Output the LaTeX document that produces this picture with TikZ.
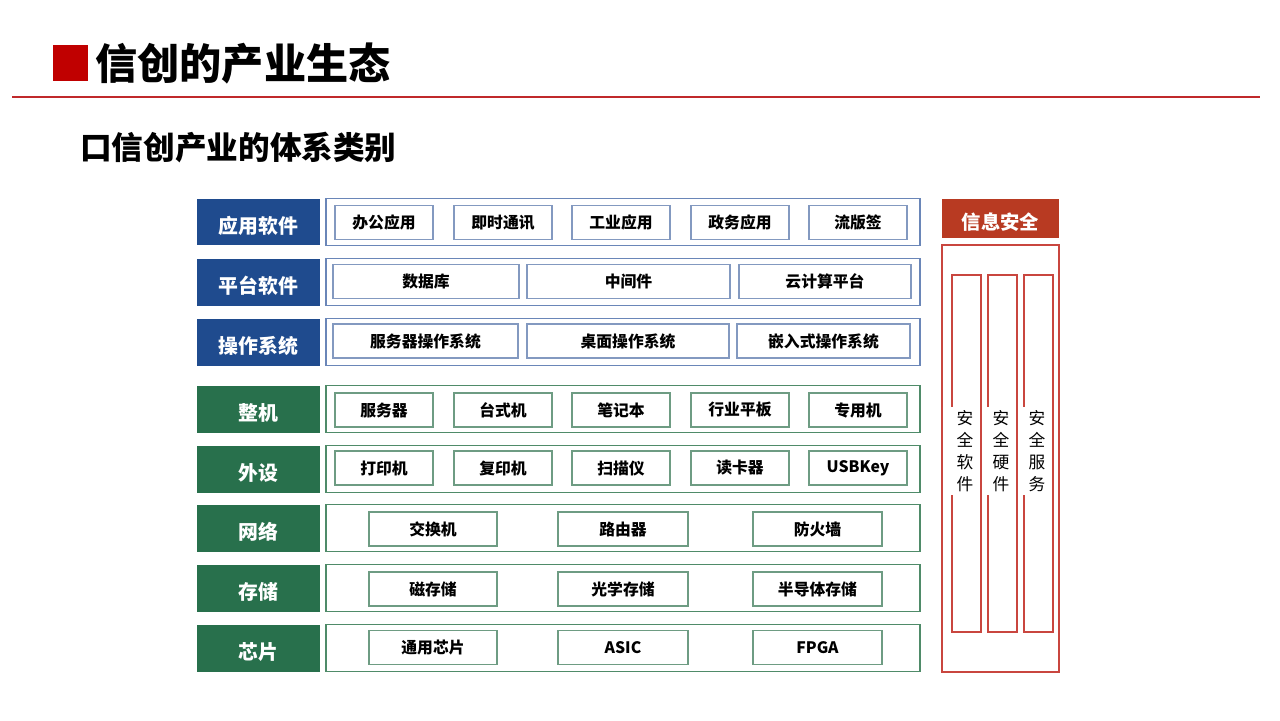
\documentclass[tikz,border=0pt]{standalone}
\usepackage{fontspec}
\setmainfont{Noto Sans CJK SC}
\usetikzlibrary{positioning}
\definecolor{titlered}{HTML}{C00000}
\definecolor{rulered}{HTML}{C0292B}
\definecolor{bluefill}{HTML}{1F4B8E}
\definecolor{blueline}{HTML}{6A86B8}
\definecolor{blueitem}{HTML}{8399C0}
\definecolor{greenfill}{HTML}{28704C}
\definecolor{greenline}{HTML}{4F8B69}
\definecolor{greenitem}{HTML}{6E9C83}
\definecolor{secfill}{HTML}{B83A22}
\definecolor{secline}{HTML}{C9463F}

\begin{document}
\begin{tikzpicture}[
    x=0.02cm, y=-0.02cm,
    layer/.style={draw=#1, line width=1.1pt, fill=white, minimum width=11.88cm,
                  minimum height=0.94cm, inner sep=0pt},
    tag/.style={fill=#1, text=white, minimum width=2.46cm, minimum height=0.94cm,
                inner sep=0pt, font=\fontsize{11.3}{13}\selectfont\bfseries,
                text height=1.38em, text depth=0.12em},
    item/.style={draw=#1, line width=0.8pt, fill=white, minimum height=0.68cm,
                 inner sep=0pt, font=\fontsize{9}{11}\selectfont\bfseries},
    pillar/.style={draw=secline, line width=0.9pt, minimum width=0.58cm,
                   minimum height=7.14cm, inner sep=0pt},
    vtext/.style={fill=white, align=center, font=\fontsize{9.5}{12.5}\selectfont,
                  inner xsep=0pt, inner ysep=2pt, minimum width=0.6cm}
]
\useasboundingbox (0,0) rectangle (1280,720);
\fill[white] (0,0) rectangle (1280,720);

% heading
\node[fill=titlered, minimum size=0.71cm, inner sep=0pt] (mark) at (70.5,63) {};
\node[anchor=west, inner sep=0pt, font=\fontsize{24}{28}\selectfont\bfseries] (title) at (95,63) {信创的产业生态};
\draw[rulered, line width=1.3pt] (12,97) -- (1260,97);
\node[anchor=west, inner sep=0pt, font=\fontsize{18}{22}\selectfont\bfseries] (subtitle) at (80,148) {口信创产业的体系类别};

% software layers
\foreach \row/\y/\txt in {app/222/应用软件, plat/282/平台软件, os/342/操作系统}{
  \node[tag=bluefill] (\row-tag) at (258.5,\y) {\txt};
  \node[layer=blueline] (\row) at (623,\y) {};
}
\foreach \x/\txt [count=\i] in {384/办公应用, 503/即时通讯, 621/工业应用, 740/政务应用, 858/流版签}
  \node[item=blueitem, minimum width=1.96cm] (app-\i) at (\x,222.5) {\txt};
\foreach \x/\w/\txt [count=\i] in {426/3.72/数据库, 628.5/4.06/中间件, 825/3.44/云计算平台}
  \node[item=blueitem, minimum width=\w cm] (plat-\i) at (\x,281.5) {\txt};
\foreach \x/\w/\txt [count=\i] in {425.5/3.70/服务器操作系统, 628/4.04/桌面操作系统, 823.5/3.46/嵌入式操作系统}
  \node[item=blueitem, minimum width=\w cm] (os-\i) at (\x,341) {\txt};

% hardware layers
\foreach \row/\y/\txt in {pc/409/整机, io/469/外设, net/528/网络, sto/588/存储, chip/648/芯片}{
  \node[tag=greenfill] (\row-tag) at (258.5,\y) {\txt};
  \node[layer=greenline] (\row) at (623,\y) {};
}
\foreach \x/\txt [count=\i] in {384/服务器, 503/台式机, 621/笔记本, 740/行业平板, 858/专用机}
  \node[item=greenitem, minimum width=1.96cm] (pc-\i) at (\x,410) {\txt};
\foreach \x/\txt [count=\i] in {384/打印机, 503/复印机, 621/扫描仪, 740/读卡器, 858/USBKey}
  \node[item=greenitem, minimum width=1.96cm] (io-\i) at (\x,468) {\txt};
\foreach \x/\w/\txt [count=\i] in {433/2.56/交换机, 623/2.60/路由器, 817.5/2.58/防火墙}
  \node[item=greenitem, minimum width=\w cm] (net-\i) at (\x,529) {\txt};
\foreach \x/\w/\txt [count=\i] in {433/2.56/磁存储, 623/2.60/光学存储, 817.5/2.58/半导体存储}
  \node[item=greenitem, minimum width=\w cm] (sto-\i) at (\x,589) {\txt};
\foreach \x/\w/\txt [count=\i] in {433/2.56/通用芯片, 623/2.60/ASIC, 817.5/2.58/FPGA}
  \node[item=greenitem, minimum width=\w cm] (chip-\i) at (\x,647.5) {\txt};

% security column
\node[tag=secfill, minimum width=2.34cm, minimum height=0.78cm,
      font=\fontsize{11}{13}\selectfont\bfseries] (sec-tag) at (1000.5,218.5) {信息安全};
\node[draw=secline, line width=1.1pt, minimum width=2.34cm, minimum height=8.54cm,
      inner sep=0pt] (sec) at (1000.5,458.5) {};
\foreach \x [count=\i] in {966.5, 1002.5, 1038.5}
  \node[pillar] (pillar-\i) at (\x,453.5) {};
\foreach \x/\txt [count=\i] in {965/安\\全\\软\\件, 1001/安\\全\\硬\\件, 1037/安\\全\\服\\务}
  \node[vtext] (pillar-txt-\i) at (\x,451) {\txt};
\end{tikzpicture}
\end{document}
